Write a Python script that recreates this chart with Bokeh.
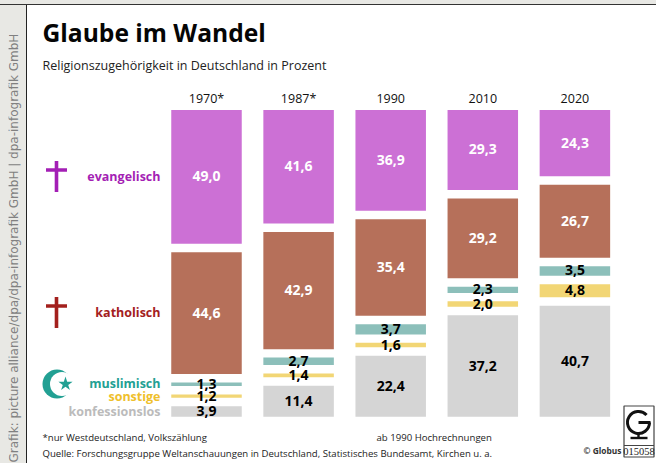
from bokeh.embed import file_html
from bokeh.resources import INLINE
from bokeh.plotting import figure
from bokeh.models import Range1d, ColumnDataSource, GlobalInlineStyleSheet
from bokeh.core.properties import value

years = ["1970*", "1987*", "1990", "2010", "2020"]
evangelisch = [49.0, 41.6, 36.9, 29.3, 24.3]
katholisch = [44.6, 42.9, 35.4, 29.2, 26.7]
muslimisch = [1.3, 2.7, 3.7, 2.3, 3.5]
sonstige = [1.2, 1.4, 1.6, 2.0, 4.8]
konfessionslos = [3.9, 11.4, 22.4, 37.2, 40.7]
series_names = ["evangelisch", "katholisch", "muslimisch", "sonstige", "konfessionslos"]
series_values = [evangelisch, katholisch, muslimisch, sonstige, konfessionslos]
bar_colors = ["#CC70D5", "#B6705A", "#8CBFBA", "#F2D675", "#D5D5D5"]
legend_colors = ["#A41FB4", "#A3201D", "#22A093", "#EFC02B", "#BBBBBB"]
label_colors = ["#FFFFFF", "#FFFFFF", "#000000", "#000000", "#000000"]

W, H = 648, 455
FONT = "Open Sans"
PX_PER_PCT = 2.73
GAP = 3.1            # gap between segments, in percent units
SPACING = 92.1       # px between columns
X0, Y0 = 206.0, 109.5  # page px of first column centre and stack top

p = figure(width=W, height=H, output_backend="svg", toolbar_location=None,
           x_range=Range1d((8 - X0) / SPACING, (8 + W - X0) / SPACING),
           y_range=Range1d((8 + H - Y0) / PX_PER_PCT, (8 - Y0) / PX_PER_PCT),
           min_border=0, outline_line_color=None, x_axis_type=None, y_axis_type=None,
           background_fill_alpha=0, border_fill_alpha=0)
p.grid.visible = False
p.extra_x_ranges["px"] = Range1d(8, 8 + W)
p.extra_y_ranges["px"] = Range1d(8 + H, 8)
p.stylesheets.append(GlobalInlineStyleSheet(css="""
html{background:
  linear-gradient(#E8E8E4 0 4px, #333 4px 5.5px, transparent 5.5px),
  linear-gradient(90deg, #E8E8E4 0 26px, #222 26px 27px, #FFF 27px);height:463px;overflow:hidden}
body{margin:8px 0 0 8px;background:transparent}
"""))

def txt(x, y, s, size, color="#111111", style="normal", align="left", angle=0, font=FONT):
    p.text([x], [y], text=[s], x_range_name="px", y_range_name="px",
           text_font=value(font), text_font_size=value(f"{size}px"), text_color=color,
           text_font_style=style, text_align=align, text_baseline="middle", angle=angle)

# stacked segments
xs = list(range(len(years)))
tops = [0.0] * len(years)
for vals, col, lab in zip(series_values, bar_colors, label_colors):
    bottoms = [t + v for t, v in zip(tops, vals)]
    mids = [(t + b) / 2 for t, b in zip(tops, bottoms)]
    src = ColumnDataSource(dict(x=xs, top=tops, bottom=bottoms, mid=mids,
                                label=[f"{v:.1f}".replace(".", ",") for v in vals]))
    p.vbar(x="x", top="top", bottom="bottom", width=70.5 / SPACING, source=src,
           fill_color=col, line_color=None)
    p.text(x="x", y="mid", text="label", source=src, text_align="center", text_baseline="middle",
           text_font=value(FONT), text_font_size=value("14px"), text_font_style="bold", text_color=lab,
           y_offset=-0.5)
    tops = [b + GAP for b in bottoms]

# year labels
p.text(x=xs, y=[-4.2] * 5, text=years, text_align="center", text_baseline="middle",
       text_font=value(FONT), text_font_size=value("12.5px"), text_color="#111111")

# titles
txt(42, 31.5, "Glaube im Wandel", 24.6, "#050505", "bold")
txt(42, 64.5, "Religionszugehörigkeit in Deutschland in Prozent", 12.5, "#222222")

# legend
legend_y = [176, 312, 382.5, 395.5, 410.5]
for name, color, y in zip(series_names, legend_colors, legend_y):
    txt(160, y, name, 12.5, color, "bold", "right")

# cross icons
for cx, cy, color in [(56, 176, "#A31FB5"), (56, 312, "#A3201D")]:
    p.segment([cx], [cy - 15.5], [cx], [cy + 15.5], x_range_name="px", y_range_name="px",
              line_color=color, line_width=3.6)
    p.segment([cx - 10.5], [cy - 6.5], [cx + 10.5], [cy - 6.5], x_range_name="px", y_range_name="px",
              line_color=color, line_width=3.6)

# crescent and star
p.circle([56.5], [383.5], radius=14.5, x_range_name="px", y_range_name="px", fill_color="#22A093", line_color=None)
p.circle([61.5], [383.5], radius=12, x_range_name="px", y_range_name="px", fill_color="#FFFFFF", line_color=None)
p.scatter([65], [383.5], marker="star", size=15, x_range_name="px", y_range_name="px", fill_color="#22A093", line_color=None)

# footnotes
txt(42, 436.5, "*nur Westdeutschland, Volkszählung", 9.6, "#222222")
txt(376, 436.5, "ab 1990 Hochrechnungen", 9.6, "#222222")
txt(42, 452.5, "Quelle: Forschungsgruppe Weltanschauungen in Deutschland, Statistisches Bundesamt, Kirchen u. a.", 9.6, "#222222")
txt(583, 450, "© Globus", 8.4, "#333333", "bold")

# rotated credit
txt(13.5, 462, "Grafik: picture alliance/dpa/dpa-infografik GmbH | dpa-infografik GmbH", 12,
    "#808080", "normal", "left", 1.5708, "DejaVu Sans")

# Globus logo box
p.quad([623.5], [653.5], [405.5], [456.5], x_range_name="px", y_range_name="px",
       fill_color="#FFFFFF", line_color="#444444", line_width=1.2)
p.segment([623.5], [445], [653.5], [445], x_range_name="px", y_range_name="px", line_color="#444444", line_width=1)
p.arc([638], [422], radius=11, start_angle=0.75, end_angle=0, direction="anticlock",
      x_range_name="px", y_range_name="px", line_color="#111111", line_width=3)
p.segment([638], [422], [650], [422], x_range_name="px", y_range_name="px", line_color="#111111", line_width=3)
p.segment([638], [432], [638], [437], x_range_name="px", y_range_name="px", line_color="#111111", line_width=2.4)
p.segment([630], [437.5], [647], [437.5], x_range_name="px", y_range_name="px", line_color="#111111", line_width=2.4)
txt(638.5, 451, "015058", 10.5, "#222222", "normal", "center", 0, "Liberation Sans Narrow")

open("out.html", "w").write(file_html(p, INLINE))
